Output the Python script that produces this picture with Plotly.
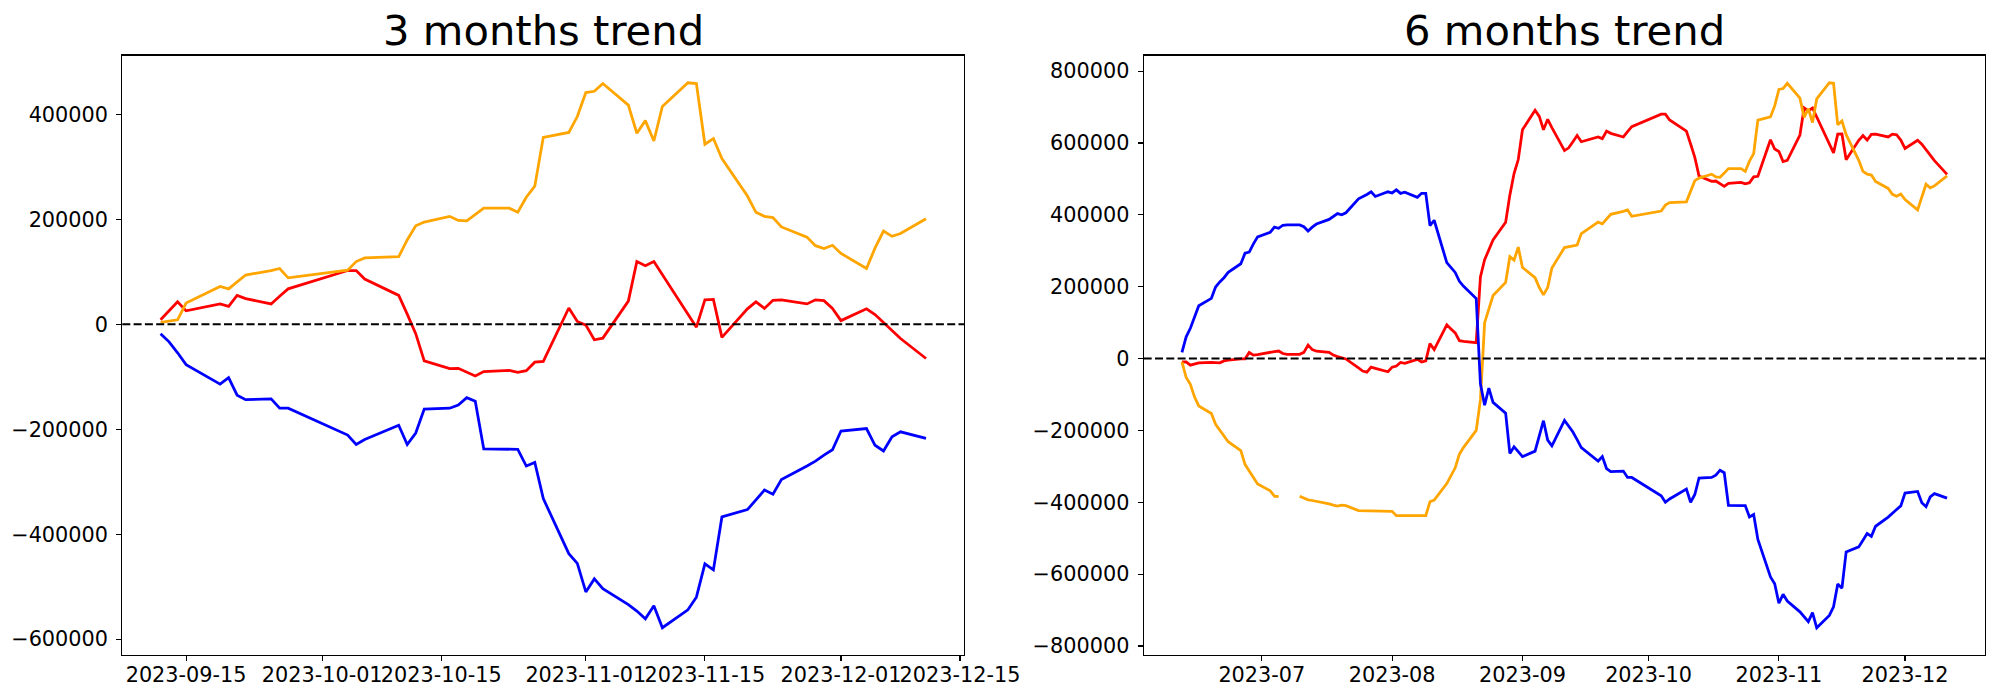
import plotly.graph_objects as go

# ---------------- data: 3 months (left) ----------------
left_dates = [
    "2023-09-12", "2023-09-13", "2023-09-14", "2023-09-15", "2023-09-19", "2023-09-20", "2023-09-21", "2023-09-22",
    "2023-09-25", "2023-09-26", "2023-09-27", "2023-10-04", "2023-10-05", "2023-10-06", "2023-10-10", "2023-10-11",
    "2023-10-12", "2023-10-13", "2023-10-16", "2023-10-17", "2023-10-18", "2023-10-19", "2023-10-20", "2023-10-23",
    "2023-10-24", "2023-10-25", "2023-10-26", "2023-10-27", "2023-10-30", "2023-10-31", "2023-11-01", "2023-11-02",
    "2023-11-03", "2023-11-06", "2023-11-07", "2023-11-08", "2023-11-09", "2023-11-10", "2023-11-13", "2023-11-14",
    "2023-11-15", "2023-11-16", "2023-11-17", "2023-11-20", "2023-11-21", "2023-11-22", "2023-11-23", "2023-11-24",
    "2023-11-27", "2023-11-28", "2023-11-29", "2023-11-30", "2023-12-01", "2023-12-04", "2023-12-05", "2023-12-06",
    "2023-12-07", "2023-12-08", "2023-12-11",
]
left_orange = [
    3880, 6210, 8540, 40360, 72180, 67520, 80710, 93910, 102450, 106330, 88480, 103220, 119520, 126500, 128830,
    160650, 187810, 194800, 205670, 197910, 197130, 208770, 221190, 221190, 213430, 242140, 263100, 356230, 365540,
    395810, 441600, 443930, 458680, 417540, 363990, 388050, 349240, 415210, 460230, 458680, 343040, 353900, 315870,
    244470, 213430, 205670, 203340, 185490, 166090, 149790, 144350, 150560, 135040, 106330, 145130, 177730, 167640,
    173070, 201010,
]
left_red = [
    8540, 25610, 42690, 25610, 38810, 34150, 55100, 48890, 38810, 53550, 67520, 102450, 102450, 86150, 55100,
    19400, -17850, -69850, -84600, -83820, -91580, -98560, -90030, -87700, -91580, -88480, -72180, -70630, 31040,
    5430, -1550, -29490, -26390, 44240, 119520, 111760, 119520, 94680, 19400, -5430, 46570, 47340, -24840, 29490,
    42690, 30270, 45790, 46570, 38810, 46570, 45010, 30270, 6980, 29490, 18630, 3880, -12420, -27160, -65190,
]
left_blue = [
    -17850, -33370, -54330, -76830, -114090, -101670, -135040, -143580, -142030, -159880, -159880, -211100,
    -228950, -219640, -192470, -228950, -207220, -161430, -159880, -153670, -139700, -146680, -237490, -239040,
    -238260, -270080, -263100, -332170, -436950, -455580, -509900, -485060, -503690, -533960, -546370, -561120,
    -536280, -578190, -544040, -519990, -456350, -467990, -367100, -353130, -334500, -315880, -323640, -295700,
    -270080, -260770, -249130, -239040, -203340, -198680, -230500, -241370, -214200, -204890, -217310,
]

# ---------------- data: 6 months (right) ----------------
right_dates = [
    "2023-06-12", "2023-06-13", "2023-06-14", "2023-06-15", "2023-06-16",
    "2023-06-19", "2023-06-20", "2023-06-21", "2023-06-22", "2023-06-23",
    "2023-06-26", "2023-06-27", "2023-06-28", "2023-06-29", "2023-06-30",
    "2023-07-03", "2023-07-04", "2023-07-05", "2023-07-06", "2023-07-07",
    "2023-07-10", "2023-07-11", "2023-07-12", "2023-07-13", "2023-07-14",
    "2023-07-17", "2023-07-18", "2023-07-19", "2023-07-20", "2023-07-21",
    "2023-07-24", "2023-07-25", "2023-07-26", "2023-07-27", "2023-07-28",
    "2023-07-31", "2023-08-01", "2023-08-02", "2023-08-03", "2023-08-04",
    "2023-08-07", "2023-08-08", "2023-08-09", "2023-08-10", "2023-08-11",
    "2023-08-14", "2023-08-15", "2023-08-16", "2023-08-17", "2023-08-18",
    "2023-08-21", "2023-08-22", "2023-08-23", "2023-08-24", "2023-08-25",
    "2023-08-28", "2023-08-29", "2023-08-30", "2023-08-31", "2023-09-01",
    "2023-09-04", "2023-09-05", "2023-09-06", "2023-09-07", "2023-09-08",
    "2023-09-11",
] + left_dates
right_orange = [
    -9400, -52600, -71400, -107100, -131800,
    -152800, -182900, -199100, -215300, -231500,
    -256400, -294300, -312700, -331100, -349000,
    -368000, -382700, -384000, None, None,
    -383000, -388400, -393200, -395000, -397100,
    -404300, -408000, -410500, -408000, -409500,
    -423200, -423300, -424100, -425000, -425000,
    -425000, -425000, -437100, -437100, -437100,
    -437100, -437100, -437100, -398700, -394000,
    -348000, -325000, -304000, -266000, -247000,
    -200000, -115000, 100000, 138500, 175600,
    212200, 283600, 274200, 310200, 253700,
    225400, 197800, 177200, 197800, 252000,
    309000,
    311380, 313710, 316040, 347860, 379680, 375020, 388210, 401410, 409950, 413830, 395980, 410720, 427020,
    434000, 436330, 468150, 495310, 502300, 513170, 505410, 504630, 516270, 528690, 528690, 520930, 549640,
    570600, 663730, 673040, 703310, 749100, 751430, 766180, 725040, 671490, 695550, 656740, 722710, 767730,
    766180, 650540, 661400, 623370, 551970, 520930, 513170, 510840, 492990, 473590, 457290, 451850, 458060,
    442540, 413830, 452630, 485230, 475140, 480570, 508510,
]
right_red = [
    -9400, -9500, -18300, -15100, -12000,
    -10800, -10800, -11900, -6500, -4300,
    -1100, -1100, 17000, 9700, 10800,
    18400, 19500, 21000, 14100, 11900,
    11900, 17300, 37700, 24900, 20600,
    17300, 9700, 5400, 3200, -1100,
    -26000, -34600, -37900, -23800, -27100,
    -36800, -23800, -20600, -10800, -13000,
    -2200, -9500, -6500, 41500, 25000,
    94000, 82200, 71400, 49700, 47600,
    44400, 227000, 275000, 304000, 330000,
    379500, 455000, 515000, 554000, 637000,
    691200, 674000, 637000, 666000, 643000,
    579000,
    586540, 603610, 620690, 603610, 616810, 612150, 633100, 626890, 616810, 631550, 645520, 680450, 680450,
    664150, 633100, 597400, 560150, 508150, 493400, 494180, 486420, 479440, 487970, 490300, 486420, 489520,
    505820, 507370, 609040, 583430, 576450, 548510, 551610, 622240, 697520, 689760, 697520, 672680, 597400,
    572570, 624570, 625340, 553160, 607490, 620690, 608270, 623790, 624570, 616810, 624570, 623010, 608270,
    584980, 607490, 596630, 581880, 565580, 550840, 512810,
]
right_blue = [
    17300, 60600, 84400, 116900, 147200,
    167700, 199100, 213200, 225100, 240200,
    264000, 293200, 296500, 319200, 338700,
    351700, 365700, 362500, 371100, 372200,
    372200, 367000, 354900, 365700, 374400,
    387400, 396000, 403600, 400300, 405800,
    444700, 450100, 456600, 464200, 451200,
    464200, 460900, 469600, 459900, 463100,
    449000, 459900, 459900, 370000, 385000,
    267000, 253700, 239800, 215000, 201200,
    167200, -70000, -130000, -82000, -122000,
    -152000, -264000, -245400, -259000, -273000,
    -257600, -215000, -173000, -227000, -243000,
    -172000,
    -188850, -204370, -225330, -247830, -285090, -272670, -306040, -314580, -313030, -330880, -330880,
    -382100, -399950, -390640, -363470, -399950, -378220, -332430, -330880, -324670, -310700, -317680,
    -408490, -410040, -409260, -441080, -434100, -503170, -607950, -626580, -680900, -656060, -674690,
    -704960, -717370, -732120, -707280, -749190, -715040, -690990, -627350, -638990, -538100, -524130,
    -505500, -486880, -494640, -466700, -441080, -431770, -420130, -410040, -374340, -369680, -401500,
    -412370, -385200, -375890, -388310,
]

# ---------------- ticks / titles ----------------
titles = ["3 months trend", "6 months trend"]
left_xticks = ["2023-09-15", "2023-10-01", "2023-10-15", "2023-11-01", "2023-11-15", "2023-12-01", "2023-12-15"]
left_xtext = left_xticks
right_xticks = ["2023-07-01", "2023-08-01", "2023-09-01", "2023-10-01", "2023-11-01", "2023-12-01"]
right_xtext = ["2023-07", "2023-08", "2023-09", "2023-10", "2023-11", "2023-12"]
left_yticks = [-600000, -400000, -200000, 0, 200000, 400000]
right_yticks = [-800000, -600000, -400000, -200000, 0, 200000, 400000, 600000, 800000]


def fmt(v):
    return str(v).replace("-", "\u2212")


def pad_range(*series):
    vals = [v for s in series for v in s if v is not None]
    lo, hi = min(vals), max(vals)
    m = (hi - lo) * 0.05
    return [lo - m, hi + m]


FONT = "DejaVu Sans"
LW = 2.78
W, H = 2000, 700


def xd(p0, p1):
    return [p0 / W, p1 / W]


def yd(top, bottom):
    return [1 - bottom / H, 1 - top / H]


fig = go.Figure()
for xs, ys, col, ax in [
    (left_dates, left_red, "red", ("x", "y")),
    (left_dates, left_orange, "orange", ("x", "y")),
    (left_dates, left_blue, "blue", ("x", "y")),
    (right_dates, right_red, "red", ("x2", "y2")),
    (right_dates, right_orange, "orange", ("x2", "y2")),
    (right_dates, right_blue, "blue", ("x2", "y2")),
]:
    fig.add_trace(go.Scatter(x=xs, y=ys, mode="lines", line=dict(color=col, width=LW),
                             connectgaps=False, xaxis=ax[0], yaxis=ax[1], showlegend=False,
                             hoverinfo="skip"))

axis_common = dict(showline=True, mirror=True, linecolor="black", linewidth=1.1,
                   ticks="outside", ticklen=5, tickwidth=1.1, tickcolor="black",
                   showgrid=False, zeroline=False, tickangle=0, automargin=False,
                   tickfont=dict(family=FONT, size=20.8, color="black"))

ydom = yd(55.5, 655)
fig.update_layout(
    width=W, height=H, margin=dict(l=0, r=0, t=0, b=0), autosize=False,
    paper_bgcolor="white", plot_bgcolor="white", showlegend=False,
    xaxis=dict(domain=xd(122.3, 964.3), type="date",
               range=["2023-09-07 12:00", "2023-12-15 12:00"], ticklabelstandoff=-4,
               tickmode="array", tickvals=left_xticks, ticktext=left_xtext, anchor="y", **axis_common),
    yaxis=dict(domain=ydom, range=pad_range(left_orange, left_red, left_blue), ticklabelstandoff=4,
               tickmode="array", tickvals=left_yticks, ticktext=[fmt(v) for v in left_yticks],
               anchor="x", **axis_common),
    xaxis2=dict(domain=xd(1143.7, 1985.3), type="date",
                range=["2023-06-02 21:36", "2023-12-20 02:24"], ticklabelstandoff=-4,
                tickmode="array", tickvals=right_xticks, ticktext=right_xtext, anchor="y2", **axis_common),
    yaxis2=dict(domain=ydom, range=pad_range(right_orange, right_red, right_blue), ticklabelstandoff=4,
                tickmode="array", tickvals=right_yticks, ticktext=[fmt(v) for v in right_yticks],
                anchor="x2", **axis_common),
)

for xr, yr in [("x", "y"), ("x2", "y2")]:
    fig.add_shape(type="line", xref=f"{xr} domain", yref=yr, x0=0, x1=1, y0=0, y1=0,
                  line=dict(color="black", width=2, dash="8px,3.3px"), layer="above")

for i, (xr, yr) in enumerate([("x", "y"), ("x2", "y2")]):
    fig.add_annotation(text=titles[i], xref=f"{xr} domain", yref=f"{yr} domain", x=0.5, y=1,
                       xanchor="center", yanchor="bottom", yshift=-2, showarrow=False,
                       font=dict(family=FONT, size=41.7, color="black"))

fig.write_html("out.html", config={"displayModeBar": False, "staticPlot": True},
               post_script="document.body.style.margin='0';")
